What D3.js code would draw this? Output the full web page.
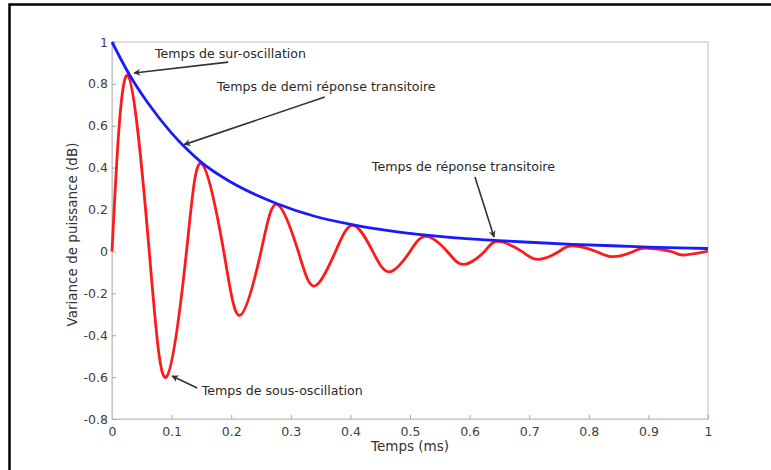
<!DOCTYPE html>
<html>
<head>
<meta charset="utf-8">
<script src="https://cdn.jsdelivr.net/npm/d3@7"></script>
<style>
  html, body { margin: 0; padding: 0; background: #fff; }
  svg { display: block; }
</style>
</head>
<body>
<svg id="chart" width="771" height="470"></svg>
<script>
// Damped oscillation (red) and its decay envelope (blue)
const oscX = [0, 0.026, 0.0625, 0.091, 0.125, 0.150, 0.1875, 0.215, 0.25, 0.277, 0.3125, 0.34, 0.375, 0.405,
              0.4375, 0.466, 0.5, 0.527, 0.5625, 0.59, 0.625, 0.648, 0.6875, 0.715, 0.75, 0.772, 0.8125,
              0.84, 0.875, 0.895, 0.9375, 0.958, 1];
const oscY = [0, 0.84, 0, -0.60, 0, 0.42, 0, -0.305, 0, 0.225, 0, -0.165, 0, 0.125,
              0, -0.097, 0, 0.072, 0, -0.062, 0, 0.048, 0, -0.038, 0, 0.027, 0,
              -0.025, 0, 0.016, 0, -0.017, 0.002];

const envX = [0, 0.03, 0.06, 0.1, 0.125, 0.15, 0.2, 0.277, 0.34, 0.405, 0.47, 0.527, 0.6, 0.648,
              0.7, 0.772, 0.85, 0.9, 0.95, 1];
const envY = [1, 0.84, 0.71, 0.565, 0.49, 0.425, 0.33, 0.228, 0.168, 0.127, 0.097, 0.078, 0.06, 0.052,
              0.044, 0.034, 0.026, 0.021, 0.017, 0.014];

const xTicks = [0, 0.1, 0.2, 0.3, 0.4, 0.5, 0.6, 0.7, 0.8, 0.9, 1];
const yTicks = [-0.8, -0.6, -0.4, -0.2, 0, 0.2, 0.4, 0.6, 0.8, 1];

const noteText = ["Temps de sur-oscillation", "Temps de demi réponse transitoire",
                  "Temps de réponse transitoire", "Temps de sous-oscillation"];
// arrow tip, arrow tail and label anchor, in data units
const noteTip  = [[0.037, 0.852], [0.121, 0.51], [0.641, 0.069], [0.1007, -0.595]];
const noteTail = [[0.195, 0.904], [0.357, 0.737], [0.609, 0.355], [0.143, -0.652]];
const noteAt   = [[0.072, 0.947], [0.176, 0.787], [0.436, 0.405], [0.1505, -0.662]];

const svg = d3.select("#chart");
const plotL = 112, plotR = 708, plotT = 42, plotB = 419;

const x = d3.scaleLinear().domain([0, 1]).range([plotL, plotR]);
const y = d3.scaleLinear().domain([-0.8, 1]).range([plotB, plotT]);

// outer frame
svg.append("rect").attr("x", 9.5).attr("y", 4.5).attr("width", 800).attr("height", 500)
  .attr("fill", "none").attr("stroke", "#000").attr("stroke-width", 2.5);

// plot box
svg.append("rect").attr("x", plotL).attr("y", plotT).attr("width", plotR - plotL).attr("height", plotB - plotT)
  .attr("fill", "none").attr("stroke", "#c8c8c8").attr("stroke-width", 1.2);

const font = "'DejaVu Sans', Verdana, sans-serif";
const plain = d => String(d);

const xAxis = svg.append("g").attr("transform", `translate(0,${plotB})`)
  .call(d3.axisBottom(x).tickValues(xTicks).tickFormat(plain).tickSizeInner(-4).tickSizeOuter(0).tickPadding(8));
const yAxis = svg.append("g").attr("transform", `translate(${plotL},0)`)
  .call(d3.axisLeft(y).tickValues(yTicks).tickFormat(plain).tickSizeInner(-4).tickSizeOuter(0).tickPadding(4));
[xAxis, yAxis].forEach(g => {
  g.select(".domain").attr("stroke", "#c8c8c8").attr("stroke-width", 1.2);
  g.selectAll(".tick line").attr("stroke", "#aaa");
  g.selectAll(".tick text").attr("fill", "#404040").style("font-family", font).style("font-size", "12.5px");
});

// envelope and oscillation
const oscPts = oscX.map((v, i) => [v, oscY[i]]);
const envPts = envX.map((v, i) => [v, envY[i]]);

svg.append("path").datum(oscPts)
  .attr("d", d3.line().x(d => x(d[0])).y(d => y(d[1])).curve(d3.curveNatural))
  .attr("fill", "none").attr("stroke", "#ff1a1a").attr("stroke-width", 2.8).attr("stroke-linejoin", "round");

svg.append("path").datum(envPts)
  .attr("d", d3.line().x(d => x(d[0])).y(d => y(d[1])).curve(d3.curveMonotoneX))
  .attr("fill", "none").attr("stroke", "#1a1aff").attr("stroke-width", 2.8);

// axis titles
svg.append("text").attr("x", (plotL + plotR) / 2).attr("y", 451).attr("text-anchor", "middle")
  .style("font-family", font).style("font-size", "13.5px").attr("fill", "#333").text("Temps (ms)");
svg.append("text").attr("transform", `translate(77,${(plotT + plotB) / 2 + 4}) rotate(-90)`).attr("text-anchor", "middle")
  .style("font-family", font).style("font-size", "13.5px").attr("fill", "#333").text("Variance de puissance (dB)");

// annotations
svg.append("defs").append("marker").attr("id", "head")
  .attr("viewBox", "0 0 10 10").attr("refX", 9).attr("refY", 5)
  .attr("markerWidth", 7).attr("markerHeight", 7).attr("markerUnits", "userSpaceOnUse")
  .attr("orient", "auto")
  .append("path").attr("d", "M0,0 L10,5 L0,10 L3,5 Z").attr("fill", "#333");

noteText.forEach((t, i) => {
  svg.append("line")
    .attr("x1", x(noteTail[i][0])).attr("y1", y(noteTail[i][1]))
    .attr("x2", x(noteTip[i][0])).attr("y2", y(noteTip[i][1]))
    .attr("stroke", "#333").attr("stroke-width", 1.6).attr("marker-end", "url(#head)");
  svg.append("text").attr("x", x(noteAt[i][0])).attr("y", y(noteAt[i][1])).attr("dy", "0.35em")
    .style("font-family", font).style("font-size", "12.6px").attr("fill", "#2a2a2a").text(t);
});
</script>
</body>
</html>
